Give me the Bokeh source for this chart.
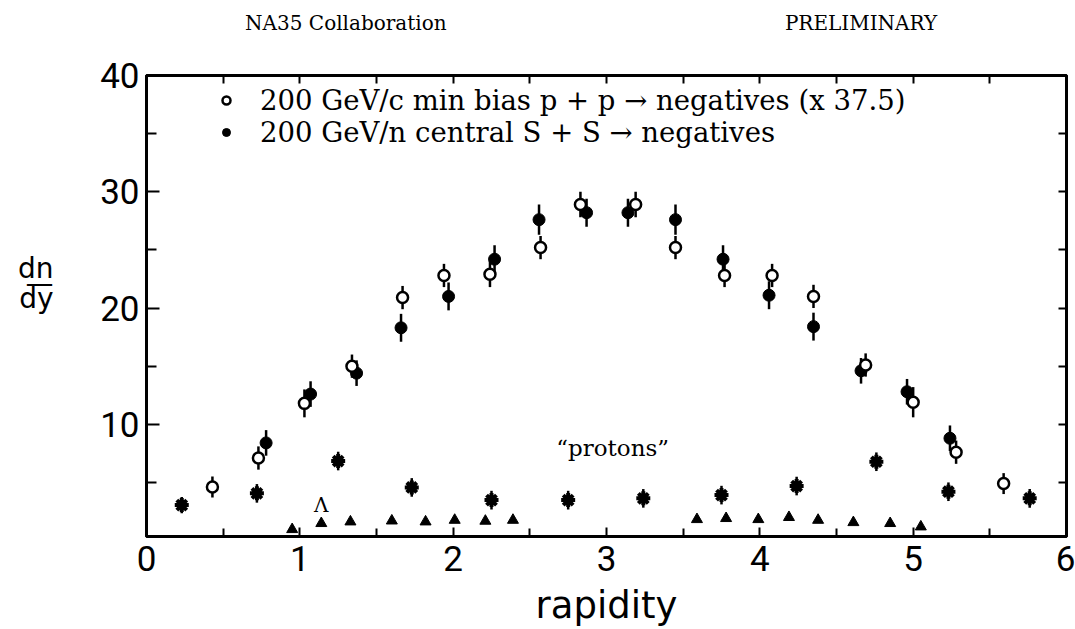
import numpy as np
from bokeh.plotting import figure
from bokeh.models import Range1d, LinearAxis, FixedTicker, Label, Legend, LegendItem
from bokeh.embed import file_html
from bokeh.resources import INLINE

# ---------------- data ----------------
pp_x = [0.43, 0.73, 1.03, 1.34, 1.67, 1.94, 2.24, 2.57, 2.83, 3.19, 3.45, 3.77, 4.08, 4.35, 4.69, 5.00, 5.28, 5.59]
pp_y = [4.6, 7.1, 11.8, 15.0, 20.9, 22.8, 22.9, 25.2, 28.9, 28.9, 25.2, 22.8, 22.8, 21.0, 15.1, 11.9, 7.6, 4.9]
pp_err = [0.9, 1.0, 1.2, 1.0, 1.0, 1.0, 1.1, 1.0, 1.1, 1.1, 1.0, 1.0, 1.0, 1.0, 1.0, 1.3, 1.0, 0.9]

ss_x = [0.78, 1.07, 1.37, 1.66, 1.97, 2.27, 2.56, 2.87, 3.14, 3.45, 3.76, 4.06, 4.35, 4.66, 4.96, 5.24]
ss_y = [8.4, 12.6, 14.4, 18.3, 21.0, 24.2, 27.6, 28.2, 28.2, 27.6, 24.2, 21.1, 18.4, 14.6, 12.8, 8.8]
ss_err = [1.1, 1.1, 1.1, 1.2, 1.2, 1.2, 1.3, 1.2, 1.2, 1.3, 1.2, 1.2, 1.2, 1.1, 1.1, 1.1]

prot_x = [0.23, 0.72, 1.25, 1.73, 2.25, 2.75, 3.24, 3.75, 4.24, 4.76, 5.23, 5.76]
prot_y = [3.05, 4.06, 6.84, 4.57, 3.48, 3.48, 3.63, 3.91, 4.69, 6.78, 4.2, 3.63]
prot_err = [0.7, 0.8, 0.8, 0.8, 0.8, 0.8, 0.8, 0.8, 0.8, 0.8, 0.8, 0.8]

lam_x = [0.95, 1.14, 1.33, 1.60, 1.82, 2.01, 2.21, 2.39, 3.59, 3.78, 3.99, 4.19, 4.38, 4.61, 4.85, 5.05]
lam_y = [0.96, 1.48, 1.62, 1.70, 1.62, 1.76, 1.68, 1.76, 1.82, 1.91, 1.82, 2.0, 1.76, 1.56, 1.48, 1.19]

x_ticks = [0, 1, 2, 3, 4, 5, 6]
x_minor = [0.5, 1.5, 2.5, 3.5, 4.5, 5.5]
x_all = [0, 0.5, 1, 1.5, 2, 2.5, 3, 3.5, 4, 4.5, 5, 5.5, 6]
y_ticks = [10, 20, 30, 40]
y_minor = [5, 15, 25, 35]
y_all = [5, 10, 15, 20, 25, 30, 35]

legend_pp = "200 GeV/c min bias p + p \u2192 negatives (x 37.5)"
legend_ss = "200 GeV/n central S + S \u2192 negatives"

header_texts = {1.30: "NA35 Collaboration", 4.66: "PRELIMINARY"}
ylabel_parts = {23.4: "dn", 22.1: "\u2014", 20.85: "dy"}

# ---------------- figure ----------------
p = figure(width=1075, height=629, x_range=Range1d(0, 6), y_range=Range1d(0.35, 40),
           x_axis_type=None, y_axis_type=None, output_backend="svg", toolbar_location=None,
           min_border_left=146, min_border_right=9, min_border_top=75, min_border_bottom=93)
p.outline_line_color = "black"
p.outline_line_width = 3
p.background_fill_color = "white"
p.border_fill_color = "white"

TICK_FONT = "Roboto"
LABEL_FONT = "DejaVu Sans"
SERIF = "DejaVu Serif"

def style_axis(ax, major_in, minor_in):
    ax.axis_line_width = 3
    ax.axis_line_color = "black"
    ax.major_tick_in = major_in
    ax.major_tick_out = 0
    ax.minor_tick_in = minor_in
    ax.minor_tick_out = 0
    ax.major_tick_line_width = 2
    ax.minor_tick_line_width = 2
    ax.major_tick_line_color = "black"
    ax.minor_tick_line_color = "black"
    ax.major_label_text_font = TICK_FONT
    ax.major_label_text_font_size = "35px"
    ax.major_label_text_color = "black"

def text_axis(ax, standoff, font, size):
    ax.axis_line_color = None
    ax.major_tick_line_color = None
    ax.minor_tick_line_color = None
    ax.major_tick_in = 0
    ax.major_tick_out = 0
    ax.major_label_standoff = standoff
    ax.major_label_text_font = font
    ax.major_label_text_font_size = size
    ax.major_label_text_color = "black"

# bottom axis (labelled)
xb = LinearAxis(ticker=FixedTicker(ticks=x_ticks, minor_ticks=x_minor))
style_axis(xb, 9, 8)
xb.major_label_standoff = 9
xb.axis_label = "rapidity"
xb.axis_label_text_font = LABEL_FONT
xb.axis_label_text_font_size = "37px"
xb.axis_label_text_font_style = "normal"
xb.axis_label_text_color = "black"
xb.axis_label_standoff = 10
p.add_layout(xb, "below")

# top axis: ticks only (all as minor ticks -> no labels)
xt = LinearAxis(ticker=FixedTicker(ticks=[], minor_ticks=x_all))
style_axis(xt, 9, 8)
xt.major_label_standoff = 0
p.add_layout(xt, "above")

# header texts as a label-only axis above
xh = LinearAxis(ticker=FixedTicker(ticks=list(header_texts.keys())),
                major_label_overrides=header_texts)
text_axis(xh, 41, SERIF, "20px")
p.add_layout(xh, "above")

# left axis (labelled)
yl = LinearAxis(ticker=FixedTicker(ticks=y_ticks, minor_ticks=y_minor))
style_axis(yl, 13, 10)
yl.major_label_standoff = 7
p.add_layout(yl, "left")

# y label "dn / dy" as a label-only axis
yh = LinearAxis(ticker=FixedTicker(ticks=list(ylabel_parts.keys())),
                major_label_overrides=ylabel_parts)
text_axis(yh, 44, LABEL_FONT, "28px")
p.add_layout(yh, "left")

# right axis: ticks only
yr = LinearAxis(ticker=FixedTicker(ticks=[], minor_ticks=y_all))
style_axis(yr, 8, 8)
yr.major_label_standoff = 0
p.add_layout(yr, "right")

# ---------------- data glyphs ----------------
def errbars(xs, ys, es, w=2.5):
    p.segment(x0=xs, x1=xs, y0=[y - e for y, e in zip(ys, es)], y1=[y + e for y, e in zip(ys, es)],
              line_color="black", line_width=w)

errbars(ss_x, ss_y, ss_err)
errbars(pp_x, pp_y, pp_err)
errbars(prot_x, prot_y, prot_err)

r_ss = p.scatter(ss_x, ss_y, marker="circle", size=12, fill_color="black", line_color="black")
r_pp = p.scatter(pp_x, pp_y, marker="circle", size=11, fill_color="white", line_color="black", line_width=2.5)
p.scatter(prot_x, prot_y, marker="asterisk", size=14, line_color="black", line_width=4)
p.scatter(lam_x, lam_y, marker="triangle", size=11, fill_color="black", line_color="black")

# ---------------- legend ----------------
legend = Legend(items=[LegendItem(label=legend_pp, renderers=[r_pp]),
                       LegendItem(label=legend_ss, renderers=[r_ss])],
                location=(70, 388), orientation="vertical",
                border_line_color=None, background_fill_alpha=0,
                label_text_font=SERIF, label_text_font_size="27.5px", label_text_color="black",
                glyph_width=20, glyph_height=20, label_height=26, spacing=-2,
                padding=0, margin=0, label_standoff=24)
p.add_layout(legend)

# ---------------- in-plot texts ----------------
p.add_layout(Label(x=3.04, y=7.95, text="\u201cprotons\u201d", text_font=SERIF, text_font_size="23px",
                   text_color="black", text_baseline="middle", text_align="center"))
p.add_layout(Label(x=1.14, y=3.1, text="\u039b", text_font=SERIF, text_font_size="20px",
                   text_color="black", text_baseline="middle", text_align="center"))

open("out.html", "w").write(file_html(p, INLINE))
